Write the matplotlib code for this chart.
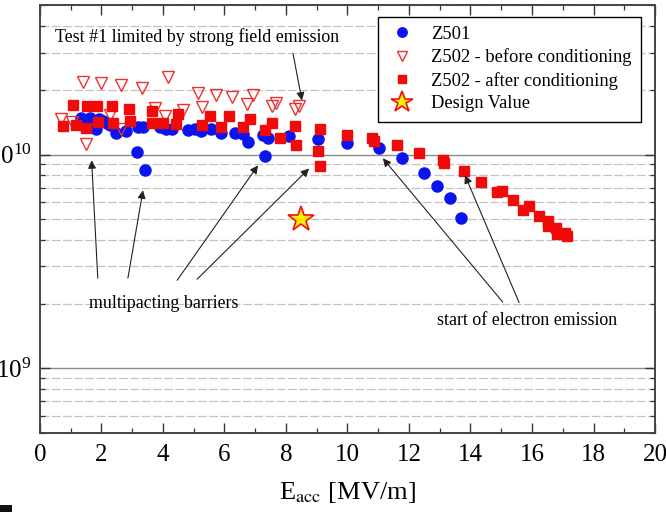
import numpy as np
import matplotlib
matplotlib.use("Agg")
import matplotlib.pyplot as plt
from matplotlib.ticker import LogLocator, MultipleLocator, NullFormatter
from matplotlib.patches import Rectangle

plt.rcParams['font.family'] = 'Liberation Serif'
plt.rcParams['mathtext.fontset'] = 'stix'

# Z501
z501_x = [1.33, 1.63, 1.82, 1.91, 2.05, 2.18, 2.28, 2.47, 2.80, 3.14, 3.19, 3.34, 3.41,
          3.90, 4.09, 4.28, 4.80, 5.04, 5.24, 5.56, 5.89, 6.34, 6.59, 6.75, 7.26, 7.32,
          7.42, 8.10, 9.03, 9.99, 11.02, 11.76, 12.50, 12.90, 13.33, 13.68]
z501_q = [1.49e10, 1.48e10, 1.32e10, 1.47e10, 1.44e10, 1.40e10, 1.38e10, 1.26e10, 1.29e10,
          1.03e10, 1.34e10, 1.34e10, 8.5e9, 1.34e10, 1.31e10, 1.32e10, 1.30e10, 1.31e10,
          1.29e10, 1.32e10, 1.26e10, 1.26e10, 1.25e10, 1.14e10, 1.24e10, 9.8e9, 1.20e10,
          1.22e10, 1.18e10, 1.13e10, 1.07e10, 9.66e9, 8.21e9, 7.14e9, 6.25e9, 5.06e9]

# Z502 before conditioning
before_x = [0.68, 1.03, 1.41, 1.49, 1.98, 2.28, 2.62, 2.62, 3.31, 3.74, 4.07, 4.15, 4.66,
            5.15, 5.26, 5.72, 6.25, 6.74, 6.94, 7.53, 7.66, 8.29, 8.42]
before_q = [1.46e10, 1.42e10, 2.19e10, 1.12e10, 2.15e10, 1.53e10, 2.12e10, 1.32e10, 2.05e10,
            1.65e10, 1.52e10, 2.31e10, 1.61e10, 1.94e10, 1.66e10, 1.90e10, 1.85e10, 1.73e10,
            1.89e10, 1.69e10, 1.75e10, 1.64e10, 1.68e10]

# Z502 after conditioning
after_x = [0.76, 1.06, 1.17, 1.50, 1.52, 1.84, 1.88, 2.33, 2.36, 2.90, 2.93, 3.64, 3.64,
           4.01, 4.41, 4.50, 5.26, 5.53, 5.88, 6.14, 6.61, 6.83, 7.32, 7.53, 7.80, 8.28,
           8.32, 9.11, 9.03, 9.11, 10.00, 10.80, 10.86, 11.60, 12.34, 13.10, 13.15, 13.79,
           14.33, 14.85, 15.01, 15.37, 15.72, 15.90, 16.23, 16.53, 16.51, 16.78, 16.80,
           17.07, 17.13]
after_q = [1.36e10, 1.71e10, 1.37e10, 1.33e10, 1.69e10, 1.69e10, 1.42e10, 1.68e10, 1.41e10,
           1.64e10, 1.43e10, 1.59e10, 1.40e10, 1.40e10, 1.39e10, 1.55e10, 1.37e10, 1.51e10,
           1.35e10, 1.51e10, 1.34e10, 1.46e10, 1.30e10, 1.41e10, 1.20e10, 1.36e10, 1.11e10,
           1.32e10, 1.04e10, 8.82e9, 1.24e10, 1.19e10, 1.16e10, 1.11e10, 1.02e10, 9.45e9,
           9.15e9, 8.36e9, 7.42e9, 6.70e9, 6.78e9, 6.10e9, 5.52e9, 5.72e9, 5.15e9, 4.87e9,
           4.61e9, 4.53e9, 4.26e9, 4.28e9, 4.15e9]

design_x = [8.5]
design_q = [5.0e9]

fig = plt.figure(figsize=(6.66, 5.12), dpi=100)
ax = fig.add_axes([0.060, 0.155, 0.9235, 0.835])
ax.set_yscale('log')
ax.set_xlim(0, 20)
ax.set_ylim(5e8, 5e10)

# grid
ax.yaxis.set_major_locator(LogLocator(base=10))
ax.yaxis.set_minor_locator(LogLocator(base=10, subs=np.arange(2, 10)))
ax.yaxis.set_minor_formatter(NullFormatter())
ax.grid(True, which='major', axis='y', color='#8a8a8a', lw=1.0, ls='-')
ax.grid(True, which='minor', axis='y', color='#c4c4c4', lw=0.9, ls=(0, (7, 2)))
ax.set_axisbelow(True)

ax.plot(z501_x, z501_q, 'o', color='#0a14f0', ms=8, mec='#0a14f0', ls='none', label='Z501')
ax.plot(before_x, before_q, 'v', mfc='none', mec='#f03030', mew=1.0, ms=9, ls='none',
        label='Z502 - before conditioning')
ax.plot(after_x, after_q, 's', color='#f00a0a', ms=6.5, ls='none', label='Z502 - after conditioning')
ax.plot(design_x, design_q, '*', mfc='#ffee00', mec='#f01010', mew=1.2, ms=19, ls='none',
        label='Design Value')

ax.xaxis.set_major_locator(MultipleLocator(2))
ax.xaxis.set_minor_locator(MultipleLocator(1))
ax.tick_params(which='both', direction='in', top=True, right=True, colors='#333333',
               labelcolor='black', labelsize=18)
ax.tick_params(which='major', length=7, width=1.0)
ax.tick_params(which='minor', length=3.5, width=0.9)
ax.tick_params(axis='x', pad=8)
ax.tick_params(axis='y', pad=6)
for sp in ax.spines.values():
    sp.set_color('#444444')
    sp.set_linewidth(1.4)

ax.set_xlabel(r'E$_{\rm acc}$ [MV/m]', fontsize=19, labelpad=10)

leg = ax.legend(loc='upper right', bbox_to_anchor=(0.977, 0.973), borderaxespad=0,
                fontsize=13.3, fancybox=False, framealpha=1, edgecolor='black',
                handletextpad=0.7, labelspacing=0.3, borderpad=0.5, handlelength=1.7,
                markerscale=0.85)
leg.get_frame().set_linewidth(1.0)

arrow = dict(arrowstyle='-|>', color='#222222', lw=0.8, mutation_scale=12,
             shrinkA=0, shrinkB=0)

ax.text(0.49, 3.53e10, 'Test #1 limited by strong field emission', fontsize=12.9,
        ha='left', va='center')
ax.annotate('', xy=(8.52, 1.79e10), xytext=(8.23, 2.96e10), arrowprops=arrow)

ax.text(1.59, 2.01e9, 'multipacting barriers', fontsize=12.9, ha='left', va='center')
ax.annotate('', xy=(1.68, 9.4e9), xytext=(1.88, 2.64e9), arrowprops=arrow)
ax.annotate('', xy=(3.35, 6.8e9), xytext=(2.86, 2.64e9), arrowprops=arrow)
ax.annotate('', xy=(7.09, 8.9e9), xytext=(4.46, 2.58e9), arrowprops=arrow)
ax.annotate('', xy=(8.75, 8.6e9), xytext=(5.11, 2.61e9), arrowprops=arrow)

ax.text(12.91, 1.68e9, 'start of electron emission', fontsize=12.9, ha='left', va='center')
ax.annotate('', xy=(11.15, 9.6e9), xytext=(15.05, 2.04e9), arrowprops=arrow)
ax.annotate('', xy=(13.82, 8.0e9), xytext=(15.58, 2.03e9), arrowprops=arrow)

# small dark mark in the lower left corner of the original scan
fig.add_artist(Rectangle((0, 0), 12 / 666, 7 / 512, transform=fig.transFigure,
                         color='#111111', lw=0))

fig.savefig('out.png', dpi=100)
